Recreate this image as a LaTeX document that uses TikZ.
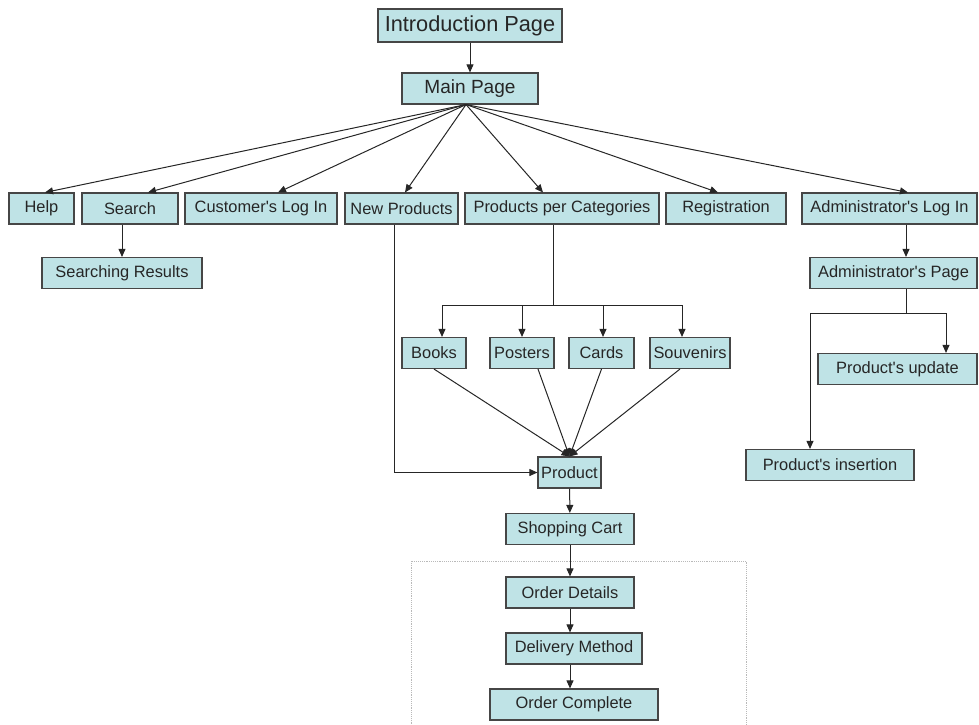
\documentclass[tikz,border=0pt]{standalone}
\usepackage{fontspec}
\setmainfont{Liberation Sans}
\usetikzlibrary{arrows.meta}
\newlength\px
\setlength\px{.75pt}
\definecolor{boxfill}{RGB}{191,227,230}
\definecolor{boxline}{RGB}{70,70,70}
\begin{document}
\begin{tikzpicture}[x=.75pt,y=-.75pt,
        page/.style={draw=boxline,fill=boxfill,line width=1.1\px,inner sep=0pt,minimum height=31\px,
            font=\fontsize{12.3pt}{14pt}\selectfont,text=black!85},
        link/.style={line width=1\px,draw=black!85,-{Triangle[length=6pt,width=5.2pt]}},
        wire/.style={line width=1\px,draw=black!85}]
    \useasboundingbox (0,0) rectangle (979,725);
    \draw[gray!55,densely dotted] (411,561) rectangle (746,745);
    \node[page,minimum width=184\px,minimum height=33\px,font=\fontsize{16.3pt}{18pt}\selectfont] (intro) at (470,25.5) {Introduction Page};
    \node[page,minimum width=136\px,font=\fontsize{14.3pt}{16pt}\selectfont] (main) at (470,88.5) {Main Page};
    \node[page,minimum width=65\px] (help) at (41.5,208.5) {Help};
    \node[page,minimum width=96\px] (search) at (130,208.5) {Search};
    \node[page,minimum width=152\px] (customer) at (261,208.5) {Customer\textquotesingle s Log In};
    \node[page,minimum width=113\px] (newprod) at (401.5,208.5) {New Products};
    \node[page,minimum width=194\px] (percat) at (562,208.5) {Products per Categories};
    \node[page,minimum width=120\px] (register) at (726,208.5) {Registration};
    \node[page,minimum width=175\px] (adminlog) at (889.5,208.5) {Administrator\textquotesingle s Log In};
    \node[page,minimum width=160\px] (results) at (122,273) {Searching Results};
    \node[page,minimum width=167\px] (adminpage) at (893.5,273) {Administrator\textquotesingle s Page};
    \node[page,minimum width=64\px] (books) at (434,353) {Books};
    \node[page,minimum width=64\px] (posters) at (522,353) {Posters};
    \node[page,minimum width=65\px] (cards) at (601.5,353) {Cards};
    \node[page,minimum width=80\px] (souvenirs) at (690,353) {Souvenirs};
    \node[page,minimum width=159\px] (update) at (897.5,369) {Product\textquotesingle s update};
    \node[page,minimum width=63\px] (product) at (569.5,472.5) {Product};
    \node[page,minimum width=168\px] (insertion) at (830,465) {Product\textquotesingle s insertion};
    \node[page,minimum width=128\px] (cart) at (570,529) {Shopping Cart};
    \node[page,minimum width=128\px] (details) at (570,592.5) {Order Details};
    \node[page,minimum width=136\px] (delivery) at (574,648.5) {Delivery Method};
    \node[page,minimum width=168\px] (complete) at (574,704.5) {Order Complete};
    \coordinate (catfork) at (553,305);
    \coordinate (adminfork) at (906,313);
    \draw[link] (intro) -- (main);
    \draw[link] ([xshift=-4\px]main.south) -- ([xshift=3.5\px]help.north);
    \draw[link] ([xshift=-4\px]main.south) -- ([xshift=18\px]search.north);
    \draw[link] ([xshift=-4\px]main.south) -- ([xshift=17\px]customer.north);
    \draw[link] ([xshift=-4\px]main.south) -- ([xshift=3.5\px]newprod.north);
    \draw[link] ([xshift=-4\px]main.south) -- ([xshift=-19\px]percat.north);
    \draw[link] ([xshift=-4\px]main.south) -- ([xshift=-8\px]register.north);
    \draw[link] ([xshift=-4\px]main.south) -- ([xshift=18.5\px]adminlog.north);
    \draw[link] (search.south -| results) -- (results);
    \draw[wire] (percat.south -| catfork) -- (catfork);
    \draw[link] (catfork) -| ([xshift=8\px]books.north);
    \draw[link] (catfork) -| (posters.north);
    \draw[link] (catfork) -| ([xshift=1.5\px]cards.north);
    \draw[link] (catfork) -| ([xshift=-8\px]souvenirs.north);
    \draw[link] (books.south) -- (product.north);
    \draw[link] ([xshift=16\px]posters.south) -- (product.north);
    \draw[link] (cards.south) -- (product.north);
    \draw[link] ([xshift=-10\px]souvenirs.south) -- (product.north);
    \draw[link] ([xshift=-7.5\px]newprod.south) |- (product.west);
    \draw[link] (product) -- (cart);
    \draw[link] (cart) -- (details);
    \draw[link] (details.south) -- (details.south |- delivery.north);
    \draw[link] (delivery.south -| details) -- (details |- complete.north);
    \draw[link] (adminlog.south -| adminfork) -- (adminpage.north -| adminfork);
    \draw[wire] (adminpage.south -| adminfork) -- (adminfork);
    \draw[link] (adminfork) -| ([xshift=48.5\px]update.north);
    \draw[link] (adminfork) -| ([xshift=-20\px]insertion.north);
\end{tikzpicture}
\end{document}
